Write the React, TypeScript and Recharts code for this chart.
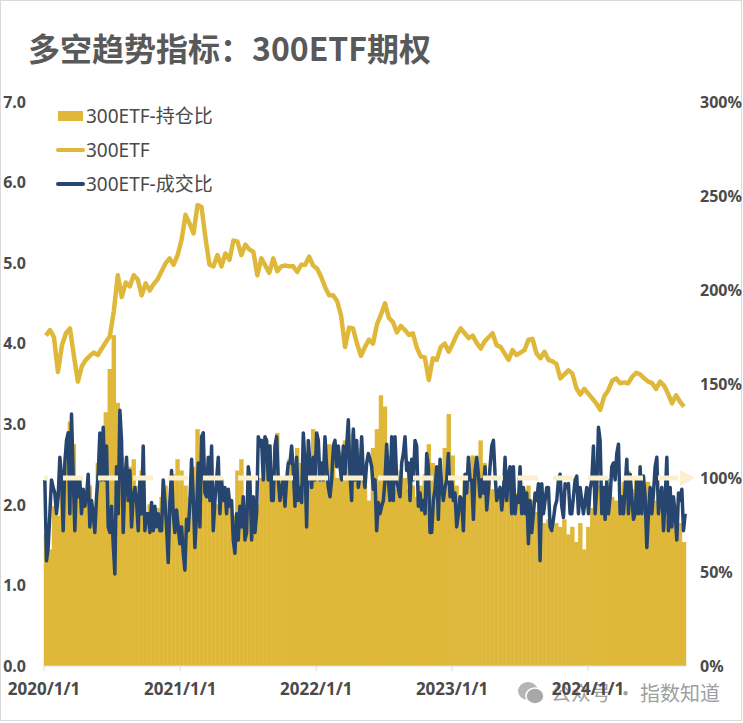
import React from 'react';
import { ComposedChart, Bar, Line, XAxis, YAxis, ReferenceLine, Legend } from 'recharts';

// ---- categories / ticks ----
const tickDays = [0, 366, 731, 1096, 1461];
const tickLabels = ['2020/1/1', '2021/1/1', '2022/1/1', '2023/1/1', '2024/1/1'];
const leftTicks = [0, 1, 2, 3, 4, 5, 6, 7];
const rightTicks = [0, 50, 100, 150, 200, 250, 300];
const lastDay = 1724; // ~2024/9/20

// ---- series ----
const etfPrice = [
  4.10, 4.17, 4.08, 3.65, 3.98, 4.13, 4.19, 3.85, 3.53, 3.72,
  3.80, 3.85, 3.89, 3.86, 3.94, 4.02, 4.09, 4.40, 4.85, 4.58,
  4.76, 4.71, 4.85, 4.80, 4.60, 4.75, 4.66, 4.74, 4.80, 4.90,
  5.00, 5.06, 4.98, 5.10, 5.29, 5.60, 5.49, 5.37, 5.72, 5.70,
  5.31, 4.98, 4.96, 5.10, 4.96, 5.12, 5.04, 5.28, 5.27, 5.10,
  5.23, 5.17, 5.14, 4.85, 5.06, 4.97, 4.88, 5.06, 4.90, 4.96,
  4.97, 4.96, 4.96, 4.89, 4.98, 4.98, 5.08, 4.97, 4.93, 4.83,
  4.70, 4.60, 4.60, 4.53, 4.35, 3.96, 4.20, 4.19, 4.00, 3.85,
  3.96, 4.05, 4.00, 4.24, 4.36, 4.50, 4.32, 4.27, 4.14, 4.22,
  4.17, 4.11, 4.13, 3.95, 3.84, 3.83, 3.55, 3.82, 3.80, 3.96,
  4.00, 3.90, 4.00, 4.11, 4.19, 4.13, 4.07, 4.10, 4.01, 3.94,
  4.03, 4.08, 4.13, 3.98, 3.96, 3.88, 3.80, 3.92, 3.86, 3.89,
  3.92, 4.05, 4.06, 3.88, 3.82, 3.90, 3.80, 3.78, 3.75, 3.57,
  3.62, 3.67, 3.63, 3.45, 3.37, 3.44, 3.38, 3.32, 3.26, 3.18,
  3.35, 3.42, 3.54, 3.57, 3.51, 3.52, 3.51, 3.59, 3.64, 3.62,
  3.57, 3.53, 3.51, 3.44, 3.53, 3.48, 3.38, 3.26, 3.36, 3.28,
  3.22,
];

const oiRatio = [
  70, 62, 85, 80, 100, 112, 130, 118, 95, 88,
  90, 96, 84, 108, 122, 135, 158, 176, 140, 112,
  100, 106, 110, 96, 104, 82, 86, 80, 84, 90,
  96, 88, 102, 110, 104, 96, 90, 106, 126, 118,
  102, 96, 90, 86, 92, 88, 84, 80, 104, 110,
  86, 84, 80, 86, 100, 112, 118, 104, 124, 100,
  96, 110, 106, 116, 108, 112, 104, 126, 112, 100,
  108, 118, 110, 100, 114, 120, 112, 124, 116, 104,
  96, 88, 116, 126, 144, 138, 112, 100, 94, 104,
  100, 94, 96, 90, 96, 102, 118, 108, 96, 100,
  116, 134, 112, 96, 90, 100, 108, 112, 104, 120,
  108, 100, 94, 92, 90, 92, 96, 88, 92, 90,
  94, 96, 88, 82, 80, 76, 78, 72, 76, 74,
  78, 70, 74, 66, 76, 62, 74, 84, 92, 96,
  90, 94, 90, 88, 86, 98, 104, 94, 100, 96,
  92, 98, 90, 88, 92, 86, 78, 84, 74, 76,
  66,
];

const volRatio = [
  99, 56, 63, 81, 99, 95, 92, 81, 90, 111, 102, 72, 108, 120, 124, 81, 134, 102, 72, 99,
  90, 99, 81, 94, 85, 90, 102, 74, 88, 81, 71, 90, 102, 124, 99, 127, 99, 117, 74, 71,
  85, 65, 49, 106, 81, 136, 120, 71, 99, 111, 88, 104, 74, 90, 95, 88, 72, 99, 81, 117,
  72, 81, 81, 71, 87, 72, 85, 74, 81, 72, 72, 99, 88, 74, 55, 88, 104, 81, 71, 83,
  74, 65, 74, 60, 51, 78, 72, 87, 110, 90, 63, 81, 108, 74, 122, 124, 92, 90, 111,
  88, 117, 72, 88, 99, 111, 81, 99, 88, 95, 81, 94, 85, 88, 67, 60, 81, 67, 85, 74,
  90, 67, 71, 106, 99, 67, 90, 71, 81, 122, 117, 120, 99, 122, 120, 99, 117, 88, 88, 117,
  122, 99, 88, 95, 99, 85, 99, 108, 108, 117, 104, 85, 111, 88, 95, 87, 124, 108, 74, 120,
  108, 95, 111, 99, 124, 120, 99, 108, 99, 122, 106, 95, 90, 99, 117, 120, 106, 117, 106, 99,
  117, 102, 117, 131, 102, 88, 126, 99, 120, 95, 102, 122, 102, 95, 108, 113,
  110, 106, 94, 99, 72, 87, 81, 85, 88, 99, 118, 99, 88, 122, 88, 122, 99, 94, 90, 108,
  113, 122, 104, 108, 88, 110, 99, 120, 117, 85, 92, 83, 88, 81, 113, 106, 71, 71, 88, 94,
  106, 78, 110, 95, 88, 95, 99, 113, 90, 99, 88, 92, 74, 81, 90, 88, 72, 102, 92, 111,
  99, 99, 78, 104, 111, 102, 90, 99, 92, 106, 83, 94, 106, 117, 120, 102, 88, 92, 95, 83,
  92, 111, 88, 102, 106, 81, 106, 81, 90, 87, 106, 81, 95, 81, 92, 65,
  88, 71, 81, 92, 88, 97, 56, 97, 81, 88, 95, 95, 74, 72, 78, 85, 88, 99, 102, 85,
  79, 97, 95, 97, 81, 81, 90, 99, 101, 81, 95, 88, 81, 88, 95, 81, 94, 99, 117, 81,
  95, 127, 120, 81, 95, 78, 99, 81, 90, 106, 108, 99, 113, 118, 81, 90, 81, 95, 110, 81,
  102, 90, 78, 81, 99, 81, 106, 81, 101, 90, 63, 81, 95, 81, 92, 106, 111, 81, 90, 95,
  72, 88, 111, 72, 95, 74, 90, 81, 67, 92, 88, 94, 72, 81,
];

const legendItems = [
  { name: '300ETF-持仓比', color: '#DFB839', kind: 'bar' },
  { name: '300ETF', color: '#DFB839', kind: 'line' },
  { name: '300ETF-成交比', color: '#27466F', kind: 'line' },
];

const weekStep = lastDay / etfPrice.length;
const data = etfPrice.map((v, i) => ({
  day: (i + 0.5) * weekStep,
  etf: v,
  oi: oiRatio[i],
}));
const volStep = lastDay / volRatio.length;
const volData = volRatio.map((v, i) => ({ day: (i + 0.5) * volStep, vol: v }));

const GOLD = '#DFB839';
const NAVY = '#27466F';
const CREAM = '#FCEFCB';
const TEXT = '#4a4a4a';
const FONT = "'Noto Sans', 'Noto Sans CJK SC', sans-serif";
const BAR_W = 4.4;

const renderLegend = () => (
  <div style={{ fontFamily: FONT }}>
    {legendItems.map((it) => (
      <div key={it.name} style={{ display: 'flex', alignItems: 'center', height: 34 }}>
        <svg width={30} height={14}>
          {it.kind === 'bar' ? (
            <rect x={2} y={2} width={25} height={10} fill={it.color} />
          ) : (
            <line x1={2} y1={7} x2={27} y2={7} stroke={it.color} strokeWidth={4} strokeLinecap="round" />
          )}
        </svg>
        <span style={{ fontSize: 19, color: TEXT, lineHeight: '22px' }}>{it.name}</span>
      </div>
    ))}
  </div>
);

// fixed-width column drawn at the bar's own scaled position and height
const barShape = (p: any) => {
  const cx = (p.x || 0) + (p.width || 0) / 2;
  return <rect x={cx - BAR_W / 2} y={p.y} width={BAR_W} height={Math.max(0, p.height || 0)} fill={GOLD} />;
};

const triangleLabel = (props: any) => {
  const vb = props.viewBox || {};
  const xe = (vb.x || 0) + (vb.width || 0);
  const y = vb.y || 0;
  return <polygon points={`${xe - 6},${y - 8} ${xe + 9},${y} ${xe - 6},${y + 8}`} fill={CREAM} />;
};

export default function App() {
  return (
    <div style={{ position: 'absolute', left: 0, top: 0, width: 743, height: 723, background: '#fff', overflow: 'hidden' }}>
      <div style={{ position: 'absolute', left: 0, top: 0, width: 742, height: 721, border: '1px solid #d9d9d9', boxSizing: 'border-box' }} />
      <div
        style={{
          position: 'absolute', left: 28, top: 28, fontSize: 32, fontWeight: 700, color: '#595959',
          fontFamily: "'Noto Sans CJK SC', sans-serif", lineHeight: '38px', whiteSpace: 'nowrap',
        }}
      >
        多空趋势指标：300ETF期权
      </div>
      <div style={{ position: 'absolute', left: 517, top: 678, display: 'flex', alignItems: 'center', color: '#a0a0a0', fontFamily: "'Noto Sans CJK SC', sans-serif", fontSize: 20, whiteSpace: 'nowrap' }}>
        <svg width={28} height={26} style={{ marginRight: 6 }}>
          <ellipse cx={11} cy={11} rx={10} ry={9} fill="#b5b5b5" />
          <ellipse cx={18} cy={16} rx={9} ry={8} fill="#a8a8a8" stroke="#fff" strokeWidth={1.5} />
        </svg>
        <span>公众号 · 指数知道</span>
      </div>
      <div style={{ position: 'absolute', left: 0, top: 0 }}>
        <ComposedChart
          width={743}
          height={723}
          data={data}
          margin={{ top: 102, right: 0, bottom: 27, left: 0 }}
          barCategoryGap={0}
          barGap={0}
        >
          <XAxis
            dataKey="day"
            type="number"
            domain={[0, lastDay]}
            ticks={tickDays}
            interval={0}
            tickFormatter={(v: number) => tickLabels[tickDays.indexOf(v)]}
            axisLine={{ stroke: '#d9d9d9' }}
            tickLine={{ stroke: '#d9d9d9' }}
            tickSize={5}
            tickMargin={12}
            height={30}
            tick={{ fill: TEXT, fontSize: 17, fontWeight: 700, fontFamily: FONT }}
          />
          <YAxis
            yAxisId="left"
            orientation="left"
            domain={[0, 7]}
            ticks={leftTicks}
            interval={0}
            width={44}
            axisLine={false}
            tickLine={false}
            tickSize={6}
            tickMargin={12}
            tickFormatter={(v: number) => v.toFixed(1)}
            tick={{ fill: TEXT, fontSize: 16, fontWeight: 700, fontFamily: FONT }}
          />
          <YAxis
            yAxisId="right"
            orientation="right"
            domain={[0, 300]}
            ticks={rightTicks}
            interval={0}
            width={57}
            axisLine={false}
            tickLine={false}
            tickSize={6}
            tickMargin={8}
            tickFormatter={(v: number) => `${v}%`}
            tick={{ fill: TEXT, fontSize: 16, fontWeight: 700, fontFamily: FONT, textAnchor: 'start' }}
          />
          <Legend
            content={renderLegend}
            layout="vertical"
            align="center"
            verticalAlign="middle"
            wrapperStyle={{ position: 'absolute', left: 56, top: 99, width: 'auto', height: 'auto' }}
          />
          <Bar yAxisId="right" dataKey="oi" name="300ETF-持仓比" fill={GOLD} shape={barShape} isAnimationActive={false} />
          <Line yAxisId="left" dataKey="etf" name="300ETF" stroke={GOLD} strokeWidth={4.5} dot={false} strokeLinejoin="round" isAnimationActive={false} />
          <Line yAxisId="right" data={volData} dataKey="vol" name="300ETF-成交比" stroke={NAVY} strokeWidth={3.5} dot={false} strokeLinejoin="round" isAnimationActive={false} />
          <ReferenceLine
            yAxisId="right"
            y={100}
            stroke={CREAM}
            strokeWidth={5}
            strokeDasharray="20 15"
            strokeDashoffset={27}
            label={triangleLabel}
          />
        </ComposedChart>
      </div>
    </div>
  );
}
